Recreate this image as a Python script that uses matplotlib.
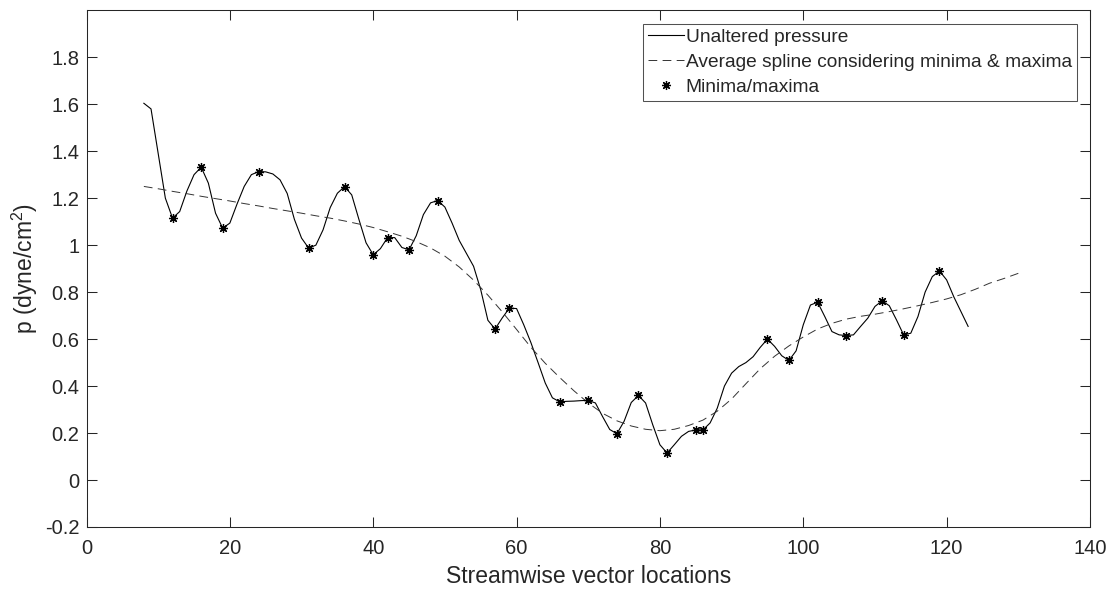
import matplotlib
matplotlib.use('Agg')
import matplotlib.pyplot as plt
import numpy as np

# presión sin alterar en cada posición del vector (x = 8 ... 123)
x_pres = np.arange(8, 124)
pressure = [1.604, 1.580, 1.390, 1.200, 1.115, 1.143, 1.230, 1.300, 1.332, 1.264,
            1.136, 1.072, 1.094, 1.175, 1.250, 1.300, 1.313, 1.312, 1.303, 1.278,
            1.220, 1.110, 1.030, 0.987, 1.000, 1.065, 1.160, 1.221, 1.249, 1.214,
            1.110, 1.010, 0.959, 0.985, 1.032, 1.032, 0.990, 0.980, 1.040, 1.130,
            1.180, 1.190, 1.162, 1.094, 1.020, 0.965, 0.910, 0.810, 0.680, 0.643,
            0.690, 0.732, 0.730, 0.661, 0.585, 0.500, 0.413, 0.350, 0.333, 0.335,
            0.336, 0.338, 0.339, 0.328, 0.270, 0.215, 0.197, 0.250, 0.330, 0.360,
            0.328, 0.235, 0.150, 0.115, 0.150, 0.186, 0.207, 0.213, 0.213, 0.243,
            0.306, 0.400, 0.455, 0.483, 0.500, 0.525, 0.565, 0.600, 0.569, 0.529,
            0.509, 0.550, 0.661, 0.745, 0.757, 0.696, 0.632, 0.618, 0.615, 0.618,
            0.654, 0.689, 0.739, 0.763, 0.742, 0.682, 0.618, 0.625, 0.696, 0.800,
            0.866, 0.890, 0.852, 0.780, 0.717, 0.654]

# posiciones de mínimos y máximos
x_ext = [12, 16, 19, 24, 31, 36, 40, 42, 45, 49, 57, 59, 66, 70, 74, 77, 81,
         85, 86, 95, 98, 102, 106, 111, 114, 119]

# spline promedio (mínimos y máximos), cada 2 posiciones
x_spl = np.arange(8, 131, 2)
spline = [1.250, 1.240, 1.229, 1.219, 1.208, 1.198, 1.188, 1.177, 1.167, 1.156,
          1.146, 1.136, 1.125, 1.115, 1.103, 1.090, 1.075, 1.057, 1.038, 1.015,
          0.988, 0.953, 0.907, 0.851, 0.787, 0.716, 0.641, 0.565, 0.497, 0.437,
          0.380, 0.328, 0.284, 0.252, 0.230, 0.216, 0.210, 0.216, 0.232, 0.255,
          0.293, 0.345, 0.410, 0.474, 0.527, 0.571, 0.609, 0.643, 0.667, 0.685,
          0.697, 0.706, 0.717, 0.729, 0.742, 0.756, 0.771, 0.789, 0.812, 0.838,
          0.858, 0.880]

y_ext = [pressure[k - 8] for k in x_ext]

gris = '#262626'
plt.rcParams['font.family'] = ['Liberation Sans', 'DejaVu Sans']
plt.rcParams['mathtext.fontset'] = 'custom'
plt.rcParams['mathtext.rm'] = 'Liberation Sans'

fig = plt.figure(figsize=(11.12, 5.9), dpi=100)
ax = fig.add_axes([0.0778, 0.1068, 0.9024, 0.8758])

ax.plot(x_pres, pressure, '-', color='black', lw=0.8, label='Unaltered pressure')
ax.plot(x_spl, spline, '--', color='#333333', lw=0.7, dashes=(9, 5.5),
        label='Average spline considering minima & maxima')
ax.plot(x_ext, y_ext, linestyle='none', marker=(8, 2, 0), markersize=6.5,
        markeredgewidth=0.9, color='black', label='Minima/maxima')

ax.set_xlim(0, 140)
ax.set_ylim(-0.2, 2.0)
ax.set_xticks(np.arange(0, 141, 20))
yt = [-0.2, 0, 0.2, 0.4, 0.6, 0.8, 1, 1.2, 1.4, 1.6, 1.8]
ax.set_yticks(yt)
ax.set_yticklabels(['-0.2', '0', '0.2', '0.4', '0.6', '0.8', '1', '1.2', '1.4', '1.6', '1.8'])

ax.tick_params(direction='in', length=7.2, width=0.75, colors=gris,
               labelsize=14.5, top=True, right=True)
ax.tick_params(axis='x', pad=9)
ax.tick_params(axis='y', pad=5)
for s in ax.spines.values():
    s.set_color(gris)
    s.set_linewidth(0.75)

ax.set_xlabel('Streamwise vector locations', fontsize=16.5, color=gris, labelpad=5)
ax.set_ylabel('p (dyne/cm$^2$)', fontsize=16.5, color=gris, labelpad=4)

leg = ax.legend(loc='upper right', fontsize=13.8, frameon=True, fancybox=False,
                handlelength=1.85, handletextpad=0.1, borderpad=0.25,
                labelspacing=0.4, borderaxespad=0.7, edgecolor=gris)
leg.get_frame().set_linewidth(0.75)
for t in leg.get_texts():
    t.set_color(gris)

fig.savefig('out.png', dpi=100)
